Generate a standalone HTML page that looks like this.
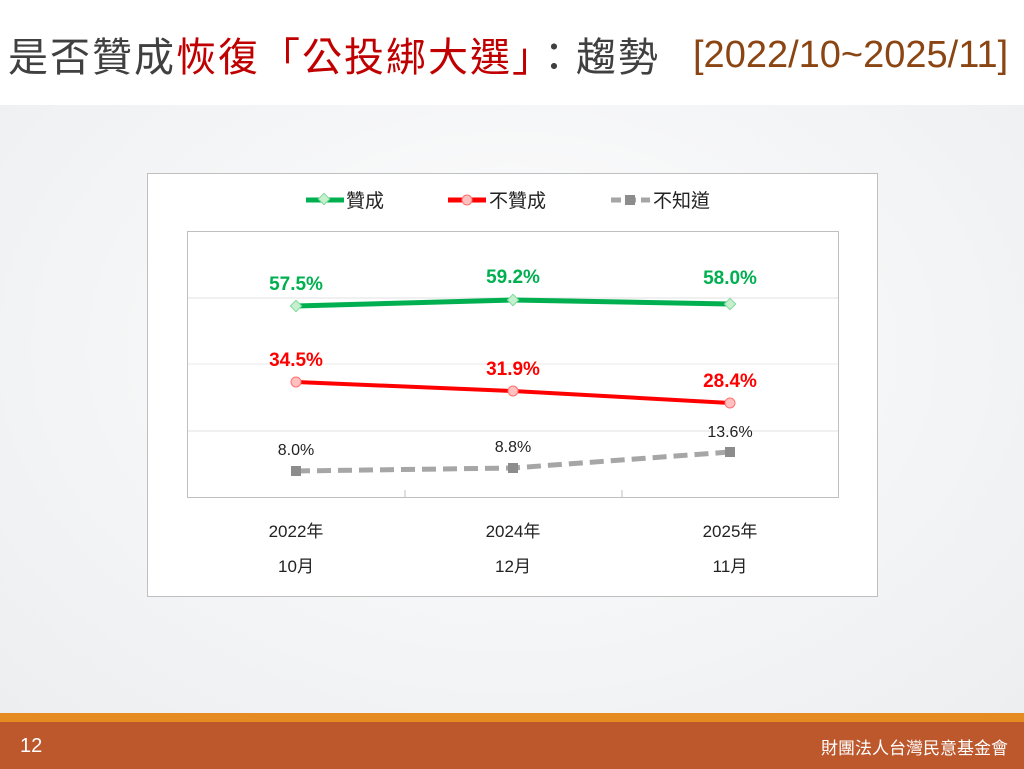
<!DOCTYPE html>
<html><head><meta charset="utf-8"><style>
body{margin:0;width:1024px;height:769px;overflow:hidden;font-family:"Liberation Sans","Noto Sans CJK TC",sans-serif;}
.bg{position:absolute;left:0;top:105px;width:1024px;height:610px;background:radial-gradient(ellipse at 50% 40%,#ffffff 0%,#f5f6f7 50%,#eceef0 100%);}
.title{position:absolute;left:8px;top:28px;font-size:40px;line-height:52px;font-family:"Noto Sans CJK TC",sans-serif;color:#404040;white-space:nowrap;letter-spacing:2px}
.title .r{color:#c00000}
.d{position:absolute;left:693px;top:32px;color:#8b4513;font-family:"Liberation Sans",sans-serif;font-size:38px;line-height:46px;white-space:nowrap}
.orange{position:absolute;left:0;top:713px;width:1024px;height:9px;background:#e58b21}
.brown{position:absolute;left:0;top:722px;width:1024px;height:47px;background:#bd582d;color:#fff}
</style></head><body>
<div class="bg"></div>
<div class="title">是否贊成<span class="r">恢復「公投綁大選」</span>：趨勢</div>
<div class="d">[2022/10~2025/11]</div>
<svg style="position:absolute;left:0;top:0" width="1024" height="769" font-family="Liberation Sans, Noto Sans CJK TC, sans-serif">
<rect x="147.5" y="173.5" width="730" height="423" fill="#fff" stroke="#bfbfbf"/>
<rect x="187.5" y="231.5" width="651" height="266" fill="#fff" stroke="#bfbfbf"/>
<line x1="188" y1="298" x2="838" y2="298" stroke="#e0e0e0"/>
<line x1="188" y1="364" x2="838" y2="364" stroke="#e8e8e8"/>
<line x1="188" y1="431" x2="838" y2="431" stroke="#e0e0e0"/>
<line x1="405" y1="490" x2="405" y2="497" stroke="#bfbfbf"/>
<line x1="622" y1="490" x2="622" y2="497" stroke="#bfbfbf"/>
<line x1="306" y1="200" x2="344" y2="200" stroke="#00b050" stroke-width="5"/>
<rect x="320" y="195" width="8" height="8" transform="rotate(45 324 199)" fill="#c6efce" stroke="#7fd99b"/>
<text x="346" y="207" font-size="19" fill="#222">贊成</text>
<line x1="448" y1="200" x2="486" y2="200" stroke="#ff0000" stroke-width="5"/>
<circle cx="467" cy="200" r="5" fill="#ffc0c0" stroke="#ff7070"/>
<text x="489" y="207" font-size="19" fill="#222">不贊成</text>
<line x1="611" y1="200" x2="650" y2="200" stroke="#a6a6a6" stroke-width="5" stroke-dasharray="10,5"/>
<rect x="625" y="195" width="10" height="10" fill="#8c8c8c"/>
<text x="653" y="207" font-size="19" fill="#222">不知道</text>
<polyline points="296,306 513,300 730,304" fill="none" stroke="#00b050" stroke-width="5"/>
<polyline points="296,382 513,391 730,403" fill="none" stroke="#ff0000" stroke-width="4"/>
<polyline points="296,471 513,468 730,452" fill="none" stroke="#a6a6a6" stroke-width="5" stroke-dasharray="14,7"/>
<g fill="#c6efce" stroke="#7fd99b">
<rect x="292" y="302" width="8" height="8" transform="rotate(45 296 306)"/>
<rect x="509" y="296" width="8" height="8" transform="rotate(45 513 300)"/>
<rect x="726" y="300" width="8" height="8" transform="rotate(45 730 304)"/></g>
<g fill="#ffc0c0" stroke="#ff7070"><circle cx="296" cy="382" r="5"/><circle cx="513" cy="391" r="5"/><circle cx="730" cy="403" r="5"/></g>
<g fill="#8c8c8c"><rect x="291" y="466" width="10" height="10"/><rect x="508" y="463" width="10" height="10"/><rect x="725" y="447" width="10" height="10"/></g>
<g font-size="19" font-weight="bold" fill="#00b050" text-anchor="middle">
<text x="296" y="290">57.5%</text><text x="513" y="283">59.2%</text><text x="730" y="284">58.0%</text></g>
<g font-size="19" font-weight="bold" fill="#ff0000" text-anchor="middle">
<text x="296" y="366">34.5%</text><text x="513" y="375">31.9%</text><text x="730" y="387">28.4%</text></g>
<g font-size="16" fill="#222" text-anchor="middle">
<text x="296" y="455">8.0%</text><text x="513" y="452">8.8%</text><text x="730" y="437">13.6%</text></g>
<g font-size="17" fill="#222" text-anchor="middle">
<text x="296" y="537">2022年</text><text x="296" y="572">10月</text>
<text x="513" y="537">2024年</text><text x="513" y="572">12月</text>
<text x="730" y="537">2025年</text><text x="730" y="572">11月</text></g>
</svg>
<div class="orange"></div>
<div class="brown"><span style="position:absolute;left:20px;top:13px;font-size:20px">12</span><span style="position:absolute;right:16px;top:12px;font-size:17px;font-family:'Noto Sans CJK TC',sans-serif">財團法人台灣民意基金會</span></div>
</body></html>
